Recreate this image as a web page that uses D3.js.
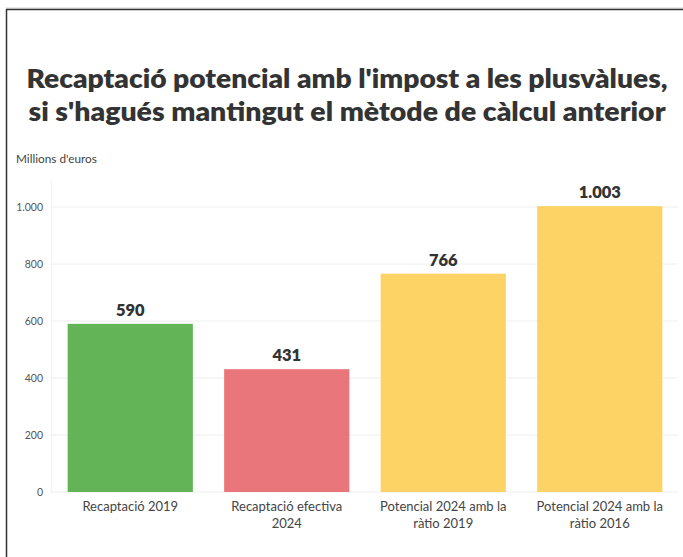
<!DOCTYPE html>
<html>
<head>
<meta charset="utf-8">
<script src="https://cdn.jsdelivr.net/npm/d3@7"></script>
<style>
  html, body { margin: 0; padding: 0; background: #fff; }
  svg { display: block; }
</style>
</head>
<body>
<script>
const categories = [["Recaptació 2019"], ["Recaptació efectiva", "2024"], ["Potencial 2024 amb la", "ràtio 2019"], ["Potencial 2024 amb la", "ràtio 2016"]];
const values = [590, 431, 766, 1003];
const valueLabels = ["590", "431", "766", "1.003"];
const colors = ["#62b457", "#e8767a", "#fdd366", "#fdd366"];
const yTicks = [0, 200, 400, 600, 800, 1000];
const yTickLabels = ["0", "200", "400", "600", "800", "1.000"];
const titleLines = ["Recaptació potencial amb l'impost a les plusvàlues,", "si s'hagués mantingut el mètode de càlcul anterior"];
const titleWidths = [641, 637];
const yAxisTitle = "Millions d'euros";

const W = 683, H = 557;
const svg = d3.select("body").append("svg").attr("width", W).attr("height", H);
const font = "'Source Sans Pro', Lato, 'Noto Sans', sans-serif";

// frame
svg.append("line").attr("x1", 6).attr("x2", W).attr("y1", 8).attr("y2", 8).attr("stroke", "#ccc").attr("stroke-width", 1);
svg.append("line").attr("x1", 6).attr("x2", W).attr("y1", 9.5).attr("y2", 9.5).attr("stroke", "#333").attr("stroke-width", 1.5);
svg.append("line").attr("x1", 6.5).attr("x2", 6.5).attr("y1", 9).attr("y2", H).attr("stroke", "#333").attr("stroke-width", 1.5);

// title
svg.append("g").selectAll("text").data(titleLines).join("text")
  .attr("x", 347).attr("y", (d, i) => 88 + i * 33)
  .attr("text-anchor", "middle")
  .attr("font-family", font).attr("font-weight", 800).attr("font-size", 25.5)
  .attr("textLength", (d, i) => titleWidths[i]).attr("lengthAdjust", "spacingAndGlyphs")
  .attr("fill", "#333")
  .text(d => d);

svg.append("text").attr("x", 16).attr("y", 163)
  .attr("font-family", font).attr("font-size", 11.8).attr("fill", "#444")
  .text(yAxisTitle);

const x = d3.scaleBand().domain(d3.range(values.length)).range([52, 678]).paddingInner(0.2).paddingOuter(0.1);
const y = d3.scaleLinear().domain([0, 1000]).range([492, 207]);

// grid
const grid = svg.append("g");
grid.selectAll("line").data(yTicks).join("line")
  .attr("x1", 50).attr("x2", 678)
  .attr("y1", d => y(d)).attr("y2", d => y(d))
  .attr("stroke", "#eee").attr("stroke-width", 1);
svg.append("line").attr("x1", 51.5).attr("x2", 51.5).attr("y1", 180).attr("y2", 492).attr("stroke", "#f2f2f2");

// y axis
const yAxis = d3.axisLeft(y).tickValues(yTicks).tickFormat((d, i) => yTickLabels[i]).tickSize(0).tickPadding(0);
const ya = svg.append("g").attr("transform", "translate(43,0)").call(yAxis);
ya.select(".domain").remove();
ya.selectAll("text").attr("font-family", font).attr("font-size", 10.5).attr("fill", "#555");

// bars
svg.append("g").selectAll("rect").data(values).join("rect")
  .attr("x", (d, i) => x(i)).attr("width", x.bandwidth())
  .attr("y", d => y(d)).attr("height", d => y(0) - y(d))
  .attr("fill", (d, i) => colors[i]);

// value labels
svg.append("g").selectAll("text").data(values).join("text")
  .attr("x", (d, i) => x(i) + x.bandwidth() / 2)
  .attr("y", d => y(d) - 8)
  .attr("text-anchor", "middle")
  .attr("font-family", font).attr("font-weight", 800).attr("font-size", 16.5)
  .attr("fill", "#333")
  .text((d, i) => valueLabels[i]);

// x axis
const xAxis = d3.axisBottom(x).tickSize(0).tickFormat(() => "");
const xa = svg.append("g").attr("transform", "translate(0,492)").call(xAxis);
xa.select(".domain").remove();
xa.selectAll(".tick").each(function(d) {
  const t = d3.select(this).select("text")
    .attr("font-family", font).attr("font-size", 13).attr("fill", "#444")
    .attr("y", 0).attr("dy", 0);
  categories[d].forEach((line, j) => {
    t.append("tspan").attr("x", 0).attr("y", 19 + j * 17).text(line);
  });
});
</script>
</body>
</html>
